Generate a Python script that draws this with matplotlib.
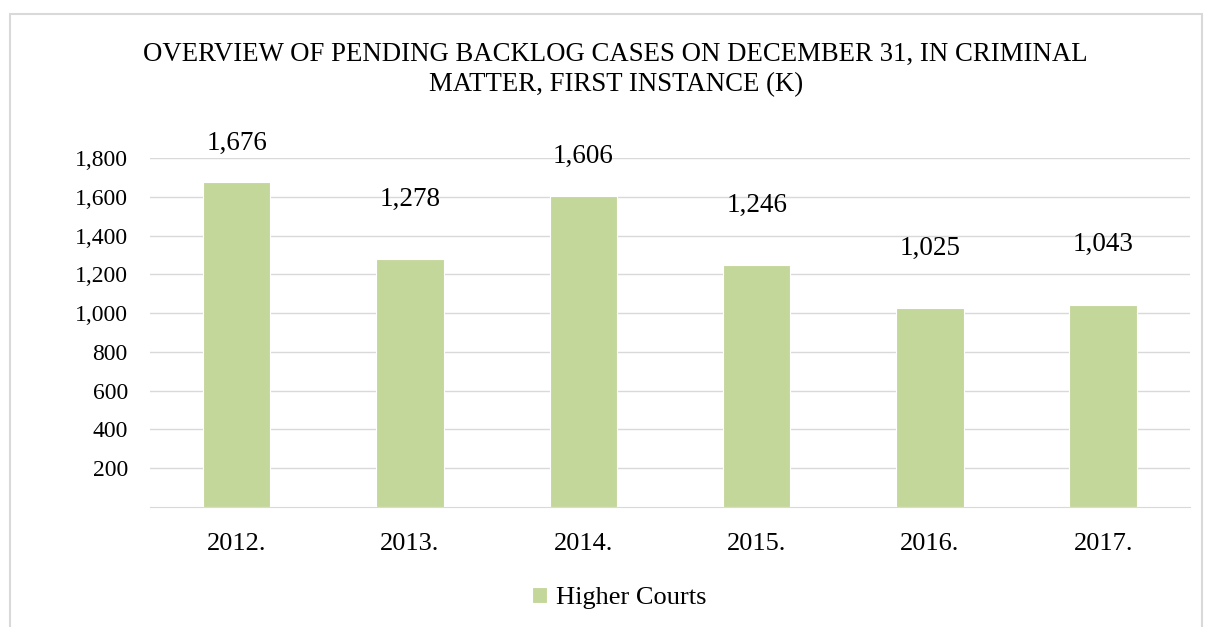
import matplotlib.pyplot as plt
from matplotlib.patches import Rectangle

years = ['2012.', '2013.', '2014.', '2015.', '2016.', '2017.']
cases = [1676, 1278, 1606, 1246, 1025, 1043]
y_ticks = [200, 400, 600, 800, 1000, 1200, 1400, 1600, 1800]

plt.rcParams['font.family'] = ['Liberation Serif', 'DejaVu Serif']

fig = plt.figure(figsize=(12.05, 6.27), dpi=100)
ax = fig.add_axes([0.1245, 0.1914, 0.863, 0.5566])

# light frame around the whole chart, like the Excel chart area
fig.patches.append(Rectangle((10 / 1205, -0.1), 1192 / 1205, 1.1 - 14 / 627,
                             transform=fig.transFigure, fill=False,
                             edgecolor='#d9d9d9', linewidth=1.5))

x = range(len(years))
ax.bar(x, cases, width=0.39, color='#c4d79b', edgecolor='white', linewidth=0.8,
       label='Higher Courts', zorder=3)

for i, v in enumerate(cases):
    off = 310 if v < 1500 else 200
    ax.text(i, v + off, f'{v:,}', ha='center', va='center', fontsize=19.5,
            clip_on=False)

ax.set_ylim(0, 1800)
ax.set_xlim(-0.5, len(years) - 0.5)
ax.set_yticks(y_ticks)
ax.set_yticklabels([f'{t:,}' for t in y_ticks])
ax.set_xticks(list(x))
ax.set_xticklabels(years)
ax.tick_params(axis='both', length=0)
ax.tick_params(axis='x', pad=19, labelsize=19)
ax.tick_params(axis='y', pad=16, labelsize=17)
ax.grid(axis='y', color='#d9d9d9', linewidth=1, zorder=0)
for s in ['top', 'right', 'left']:
    ax.spines[s].set_visible(False)
ax.spines['bottom'].set_color('#d9d9d9')

fig.text(0.511, 0.889, 'OVERVIEW OF PENDING BACKLOG CASES ON DECEMBER 31, IN CRIMINAL\nMATTER, FIRST INSTANCE (K)',
         ha='center', va='center', fontsize=19.3, linespacing=1.25)

fig.legend(loc='center', bbox_to_anchor=(0.514, 0.046), frameon=False,
           fontsize=19, handlelength=0.55, handleheight=0.55, handletextpad=0.35)

fig.savefig('out.png', dpi=100)
